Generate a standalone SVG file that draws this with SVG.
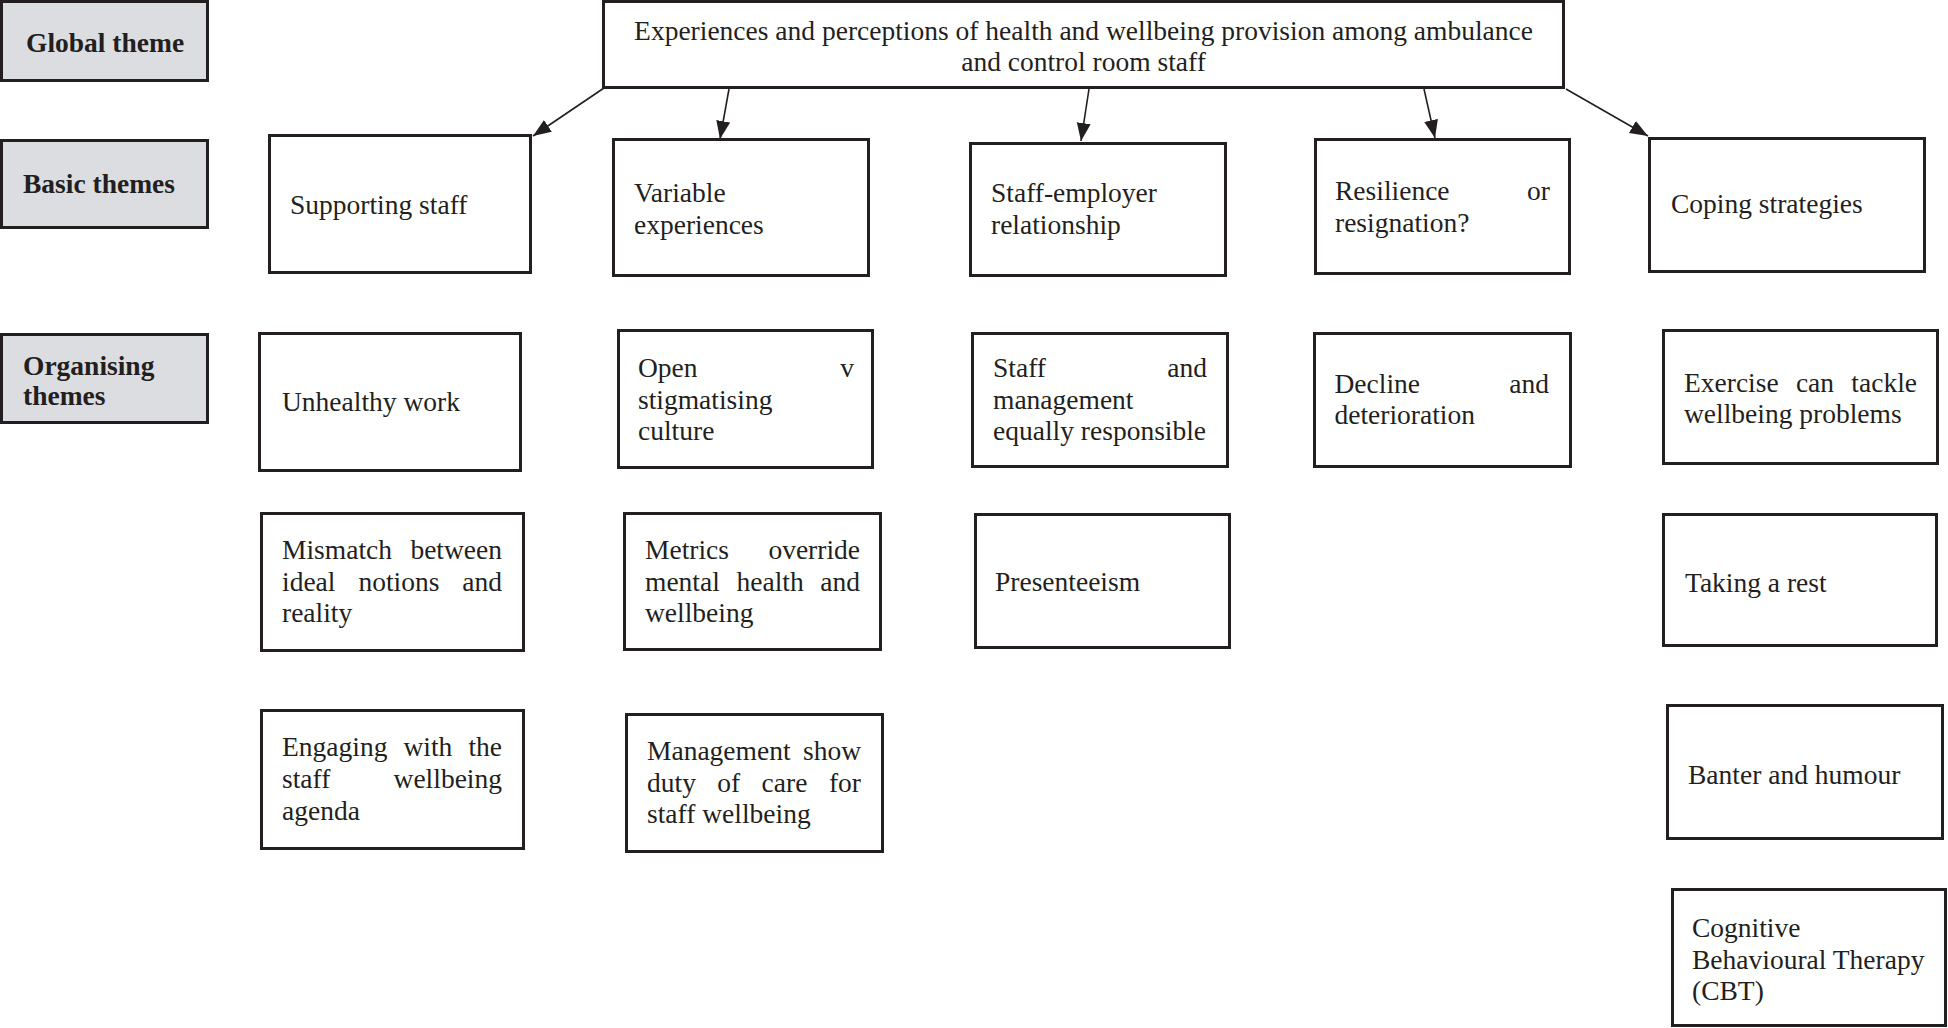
<svg xmlns="http://www.w3.org/2000/svg" width="1948" height="1028" viewBox="0 0 1948 1028">
<style>
  .box { fill: #ffffff; stroke: #231f20; stroke-width: 3; }
  .lbl { fill: #dcdde0; stroke: #231f20; stroke-width: 3; }
  .t { font-family: "Liberation Serif", "Times New Roman", serif; font-size: 27.5px; fill: #231f20; }
  .b { font-weight: bold; }
  .e { text-anchor: end; }
  .c { text-anchor: middle; }
  .conn { stroke: #231f20; stroke-width: 1.6; fill: none; marker-end: url(#arr); }
</style>
<defs>
  <marker id="arr" markerUnits="userSpaceOnUse" markerWidth="20" markerHeight="16" refX="18" refY="7" orient="auto">
    <path d="M0,0 L18,7 L0,14 z" fill="#231f20"/>
  </marker>
</defs>
<rect width="1948" height="1028" fill="#ffffff"/>

<g id="label-global"><rect class="lbl" x="1.5" y="1.5" width="206" height="79"/><text class="t b" x="26" y="52">Global theme</text></g>
<g id="label-basic"><rect class="lbl" x="1.5" y="140.5" width="206" height="87"/><text class="t b" x="23" y="193">Basic themes</text></g>
<g id="label-organising"><rect class="lbl" x="1.5" y="334.5" width="206" height="88"/><text class="t b" x="23" y="375">Organising</text><text class="t b" x="23" y="405">themes</text></g>

<g id="global">
  <rect class="box" x="603.5" y="1.5" width="960" height="86"/>
  <text class="t c" x="1083.5" y="40">Experiences and perceptions of health and wellbeing provision among ambulance</text>
  <text class="t c" x="1083.5" y="71">and control room staff</text>
</g>

<g id="connectors">
  <line class="conn" x1="604" y1="88" x2="533" y2="136"/>
  <line class="conn" x1="729" y1="89" x2="720" y2="139"/>
  <line class="conn" x1="1089" y1="89" x2="1081" y2="141"/>
  <line class="conn" x1="1424" y1="89" x2="1435" y2="138"/>
  <line class="conn" x1="1566" y1="89" x2="1648" y2="136"/>
</g>

<g id="basic-supporting"><rect class="box" x="269.5" y="135.5" width="261" height="137"/><text class="t" x="290" y="214">Supporting staff</text></g>
<g id="basic-variable"><rect class="box" x="613.5" y="139.5" width="255" height="136"/><text class="t" x="634" y="202">Variable</text><text class="t" x="634" y="234">experiences</text></g>
<g id="basic-staff-employer"><rect class="box" x="970.5" y="143.5" width="255" height="132"/><text class="t" x="991" y="202">Staff-employer</text><text class="t" x="991" y="234">relationship</text></g>
<g id="basic-resilience"><rect class="box" x="1315.5" y="139.5" width="254" height="134"/><text class="t" x="1335" y="200">Resilience</text><text class="t e" x="1550" y="200">or</text><text class="t" x="1335" y="232">resignation?</text></g>
<g id="basic-coping"><rect class="box" x="1649.5" y="138.5" width="275" height="133"/><text class="t" x="1671" y="213">Coping strategies</text></g>

<g id="org-unhealthy"><rect class="box" x="259.5" y="333.5" width="261" height="137"/><text class="t" x="282" y="411">Unhealthy work</text></g>
<g id="org-mismatch"><rect class="box" x="261.5" y="513.5" width="262" height="137"/>
  <text class="t" x="282" y="559">Mismatch</text><text class="t e" x="502" y="559">between</text>
  <text class="t" x="282" y="591">ideal</text><text class="t" x="358.4" y="591">notions</text><text class="t e" x="502" y="591">and</text>
  <text class="t" x="282" y="622">reality</text></g>
<g id="org-engaging"><rect class="box" x="261.5" y="710.5" width="262" height="138"/>
  <text class="t" x="282" y="756">Engaging</text><text class="t" x="403.4" y="756">with</text><text class="t e" x="502" y="756">the</text>
  <text class="t" x="282" y="788">staff</text><text class="t e" x="502" y="788">wellbeing</text>
  <text class="t" x="282" y="820">agenda</text></g>

<g id="org-open"><rect class="box" x="618.5" y="330.5" width="254" height="137"/>
  <text class="t" x="638" y="377">Open</text><text class="t e" x="854" y="377">v</text>
  <text class="t" x="638" y="409">stigmatising</text>
  <text class="t" x="638" y="440">culture</text></g>
<g id="org-metrics"><rect class="box" x="624.5" y="513.5" width="256" height="136"/>
  <text class="t" x="645" y="559">Metrics</text><text class="t e" x="860" y="559">override</text>
  <text class="t" x="645" y="591">mental</text><text class="t" x="736.5" y="591">health</text><text class="t e" x="860" y="591">and</text>
  <text class="t" x="645" y="622">wellbeing</text></g>
<g id="org-management"><rect class="box" x="626.5" y="714.5" width="256" height="137"/>
  <text class="t" x="647" y="760">Management</text><text class="t e" x="861" y="760">show</text>
  <text class="t" x="647" y="792">duty</text><text class="t" x="717.3" y="792">of</text><text class="t" x="761.6" y="792">care</text><text class="t e" x="861" y="792">for</text>
  <text class="t" x="647" y="823">staff wellbeing</text></g>

<g id="org-staff-management"><rect class="box" x="972.5" y="333.5" width="255" height="133"/>
  <text class="t" x="993" y="377">Staff</text><text class="t e" x="1207" y="377">and</text>
  <text class="t" x="993" y="409">management</text>
  <text class="t" x="993" y="440">equally responsible</text></g>
<g id="org-presenteeism"><rect class="box" x="975.5" y="514.5" width="254" height="133"/><text class="t" x="995" y="591">Presenteeism</text></g>

<g id="org-decline"><rect class="box" x="1314.5" y="333.5" width="256" height="133"/>
  <text class="t" x="1334.5" y="393">Decline</text><text class="t e" x="1549" y="393">and</text>
  <text class="t" x="1334.5" y="424">deterioration</text></g>

<g id="org-exercise"><rect class="box" x="1663.5" y="330.5" width="274" height="133"/>
  <text class="t" x="1684" y="392">Exercise</text><text class="t" x="1795.9" y="392">can</text><text class="t e" x="1917" y="392">tackle</text>
  <text class="t" x="1684" y="423">wellbeing problems</text></g>
<g id="org-rest"><rect class="box" x="1663.5" y="514.5" width="273" height="131"/><text class="t" x="1685" y="592">Taking a rest</text></g>
<g id="org-banter"><rect class="box" x="1667.5" y="705.5" width="275" height="133"/><text class="t" x="1688" y="784">Banter and humour</text></g>
<g id="org-cbt"><rect class="box" x="1672.5" y="889.5" width="273" height="136"/>
  <text class="t" x="1692" y="937">Cognitive</text>
  <text class="t" x="1692" y="969">Behavioural Therapy</text>
  <text class="t" x="1692" y="1000">(CBT)</text></g>
</svg>
